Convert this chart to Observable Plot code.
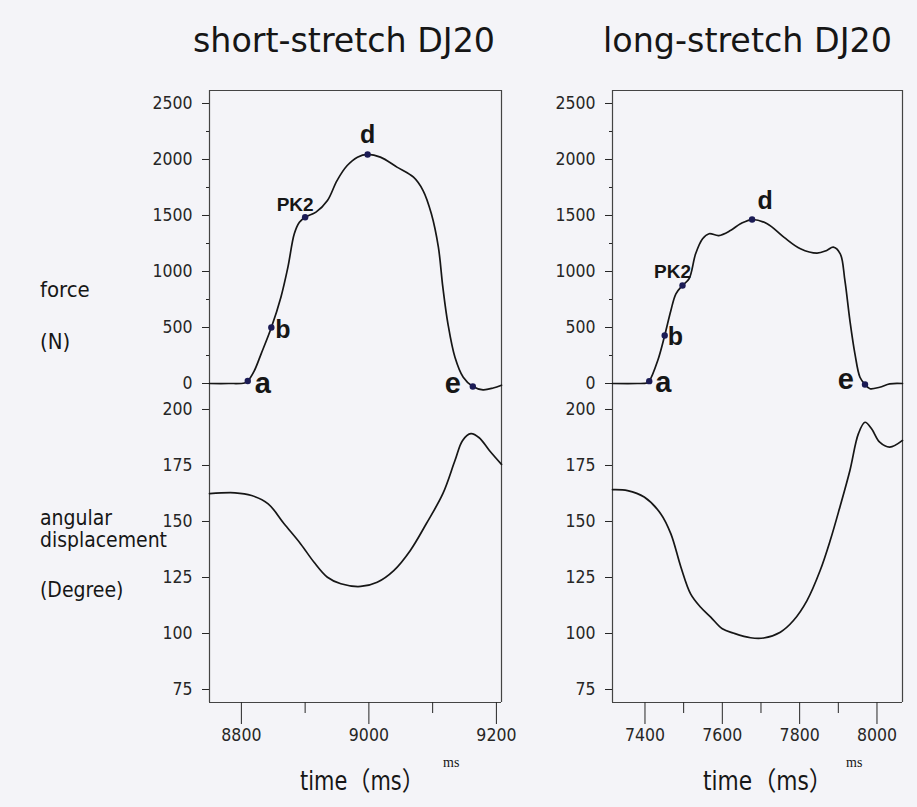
<!DOCTYPE html>
<html><head><meta charset="utf-8">
<script src="https://cdn.jsdelivr.net/npm/d3@7"></script>
<script src="https://cdn.jsdelivr.net/npm/@observablehq/plot@0.6"></script>
<style>
html,body{margin:0;padding:0;background:#f4f4f8;}
#root{position:relative;width:917px;height:807px;overflow:hidden;}
.abs{position:absolute;}
.abs svg{overflow:visible;}
</style></head><body><div id="root"></div>
<script>
// ---------- data ----------
const panelTitles = ["short-stretch DJ20", "long-stretch DJ20"];
const forceTicks = [0, 500, 1000, 1500, 2000, 2500];
const forceMinorTicks = [250, 750, 1250, 1750, 2250];
const angleTicks = [75, 100, 125, 150, 175, 200];
const shortTimeTicks = [8800, 9000, 9200];
const shortTimeMinorTicks = [8900, 9100];
const longTimeTicks = [7400, 7600, 7800, 8000];
const longTimeMinorTicks = [7500, 7700, 7900];

// short-stretch force (time ms, force N)
const shortForceTime = [8750, 8780, 8805, 8810, 8820, 8831, 8847, 8862, 8873, 8883, 8891, 8900, 8917, 8935, 8950, 8966, 8982, 8998, 9018, 9044, 9070, 9085, 9098, 9109, 9116, 9124, 9135, 9148, 9163, 9179, 9195, 9208];
const shortForce     = [0, 0, 5, 22, 110, 265, 500, 771, 1039, 1337, 1440, 1485, 1530, 1634, 1812, 1946, 2021, 2045, 2021, 1932, 1842, 1723, 1515, 1217, 860, 533, 235, 56, -27, -56, -40, -15];
// short-stretch angular displacement (time ms, degree)
const shortAngleTime = [8750, 8790, 8816, 8842, 8867, 8893, 8914, 8935, 8956, 8987, 9013, 9039, 9065, 9090, 9116, 9135, 9147, 9160, 9173, 9189, 9208];
const shortAngle     = [162.4, 162.8, 161.6, 157.9, 149.0, 140.0, 131.8, 125.1, 122.2, 121.0, 122.9, 128.1, 137.1, 149.0, 162.4, 177.2, 186.2, 189.2, 187.4, 181.7, 175.5];
// short-stretch marked points
const shortPointLabels = ["a", "b", "PK2", "d", "e"];
const shortPointTime   = [8810, 8847, 8900, 8998, 9163];
const shortPointForce  = [22, 500, 1485, 2045, -27];

// long-stretch force
const longForceTime = [7316, 7380, 7405, 7411, 7433, 7451, 7467, 7480, 7497, 7514, 7531, 7549, 7566, 7591, 7621, 7647, 7677, 7716, 7759, 7802, 7845, 7870, 7887, 7905, 7917, 7930, 7943, 7956, 7969, 7982, 8007, 8033, 8066];
const longForce     = [0, 0, 5, 21, 205, 429, 652, 801, 875, 935, 1158, 1292, 1337, 1321, 1366, 1426, 1464, 1426, 1307, 1203, 1164, 1188, 1217, 1158, 920, 562, 265, 56, -9, -47, -33, -3, 0];
// long-stretch angular displacement
const longAngleTime = [7316, 7355, 7398, 7441, 7467, 7493, 7518, 7544, 7570, 7600, 7630, 7673, 7707, 7750, 7784, 7819, 7853, 7879, 7904, 7930, 7952, 7969, 7986, 8007, 8033, 8066];
const longAngle     = [164.2, 163.8, 160.9, 153.4, 144.5, 129.6, 117.7, 111.7, 107.3, 102.1, 100.1, 98.1, 98.0, 100.6, 105.8, 114.7, 128.1, 141.5, 156.4, 172.8, 189.2, 194.3, 191.4, 185.4, 183.2, 186.2];
// long-stretch marked points
const longPointLabels = ["a", "b", "PK2", "d", "e"];
const longPointTime   = [7411, 7451, 7497, 7677, 7969];
const longPointForce  = [21, 429, 875, 1464, -9];

// ---------- layout / style ----------
const root = document.getElementById("root");
const INK = "#161616", FRAME = "#444", DOT = "#1b1b55";
const forceDomain = [-116, 2616];
const angleDomain = [69.2, 205.8];
const tickStyle = {background: "transparent", color: "#262626", fontFamily: "'Liberation Sans Narrow','DejaVu Sans Condensed',sans-serif", fontSize: "17.5px"};

function place(node, left, top) {
  const d = document.createElement("div");
  d.className = "abs"; d.style.left = left + "px"; d.style.top = top + "px";
  d.appendChild(node); root.appendChild(d);
}
const zip = (xs, ys, kx, ky) => xs.map((v, i) => ({[kx]: v, [ky]: ys[i]}));

const panels = [
  {left: 150, mL: 59, mR: 9, xDomain: [8750, 9208], ticks: shortTimeTicks, minor: shortTimeMinorTicks,
   fT: shortForceTime, f: shortForce, aT: shortAngleTime, a: shortAngle,
   pL: shortPointLabels, pT: shortPointTime, pF: shortPointForce,
   off: {a: [7, 12, "start", 29], b: [4, 10, "start", 25], PK2: [-10, -6, "middle", 19], d: [0, -11, "middle", 25], e: [-12, 6, "end", 29]}},
  {left: 552, mL: 60, mR: 10, xDomain: [7316, 8066], ticks: longTimeTicks, minor: longTimeMinorTicks,
   fT: longForceTime, f: longForce, aT: longAngleTime, a: longAngle,
   pL: longPointLabels, pT: longPointTime, pF: longPointForce,
   off: {a: [6, 11, "start", 29], b: [3, 10, "start", 25], PK2: [-10, -8, "middle", 19], d: [13, -11, "middle", 25], e: [-11, 4, "end", 29]}}
];

panels.forEach(p => {
  const forceRows = zip(p.fT, p.f, "t", "v");
  const angleRows = zip(p.aT, p.a, "t", "v");
  const pts = p.pL.map((l, i) => ({label: l, t: p.pT[i], v: p.pF[i]}));
  const force = Plot.plot({
    width: 360, height: 316, marginTop: 10, marginBottom: 0, marginLeft: p.mL, marginRight: p.mR,
    x: {domain: p.xDomain, axis: null},
    y: {domain: forceDomain, axis: null},
    style: tickStyle,
    marks: [
      Plot.ruleX(p.xDomain, {stroke: FRAME, strokeWidth: 1.2}),
      Plot.ruleY([forceDomain[1]], {stroke: FRAME, strokeWidth: 1.2}),
      Plot.axisY(forceTicks, {tickSize: 7, tickPadding: 10, tickFormat: d => String(d), label: null}),
      Plot.axisY(forceMinorTicks, {tickSize: 3, tickFormat: () => "", label: null}),
      Plot.line(forceRows, {x: "t", y: "v", curve: "catmull-rom", stroke: INK, strokeWidth: 1.7}),
      Plot.dot(pts, {x: "t", y: "v", r: 3.2, fill: DOT, stroke: "none"}),
      ...p.pL.map(l => Plot.text(pts.filter(d => d.label === l), {
        x: "t", y: "v", text: "label", dx: p.off[l][0], dy: p.off[l][1], textAnchor: p.off[l][2],
        lineAnchor: "bottom", fontSize: p.off[l][3], fontWeight: "bold", fill: INK,
        fontFamily: "'Liberation Sans',Arial,sans-serif"}))
    ]
  });
  place(force, p.left, 80);

  const angle = Plot.plot({
    width: 360, height: 360, marginTop: 0, marginBottom: 54, marginLeft: p.mL, marginRight: p.mR,
    x: {domain: p.xDomain, axis: null},
    y: {domain: angleDomain, axis: null},
    style: tickStyle,
    marks: [
      Plot.ruleX(p.xDomain, {stroke: FRAME, strokeWidth: 1.2}),
      Plot.ruleY([angleDomain[0]], {stroke: FRAME, strokeWidth: 1.2}),
      Plot.axisY(angleTicks, {tickSize: 7, tickPadding: 10, tickFormat: d => String(d), label: null}),
      Plot.axisX(p.ticks, {tickSize: 22, tickPadding: 4, tickFormat: d => String(d), label: null}),
      Plot.axisX(p.minor, {tickSize: 11, tickFormat: () => "", label: null}),
      Plot.line(angleRows, {x: "t", y: "v", curve: "catmull-rom", stroke: INK, strokeWidth: 1.7})
    ]
  });
  place(angle, p.left, 396);
});

// ---------- text overlay ----------
const svg = d3.select(root).append("svg").attr("width", 917).attr("height", 807)
  .style("position", "absolute").style("left", 0).style("top", 0).style("pointer-events", "none");
const sq = "'DejaVu Sans Condensed','DejaVu Sans',sans-serif";
const txt = (s, x, y, size, opts = {}) => {
  const t = svg.append("text").attr("x", x).attr("y", y).attr("font-size", size)
    .attr("font-family", opts.family || sq).attr("fill", INK).text(s);
  if (opts.len) t.attr("textLength", opts.len).attr("lengthAdjust", "spacingAndGlyphs");
  return t;
};
txt(panelTitles[0], 193, 52, 33, {len: 302});
txt(panelTitles[1], 603, 52, 33, {len: 289});
txt("force", 40, 297, 22);
txt("(N)", 40, 349, 22);
txt("angular", 40, 525, 21);
txt("displacement", 40, 547, 21, {len: 127});
txt("(Degree)", 40, 597, 21);
txt("time（ms）", 300, 790, 26, {len: 125, family: "'DejaVu Sans Condensed','Noto Sans CJK JP',sans-serif"});
txt("time（ms）", 703, 790, 26, {len: 130, family: "'DejaVu Sans Condensed','Noto Sans CJK JP',sans-serif"});
txt("ms", 443, 767, 14, {family: "'Liberation Serif',serif"});
txt("ms", 846, 767, 14, {family: "'Liberation Serif',serif"});
</script></body></html>
